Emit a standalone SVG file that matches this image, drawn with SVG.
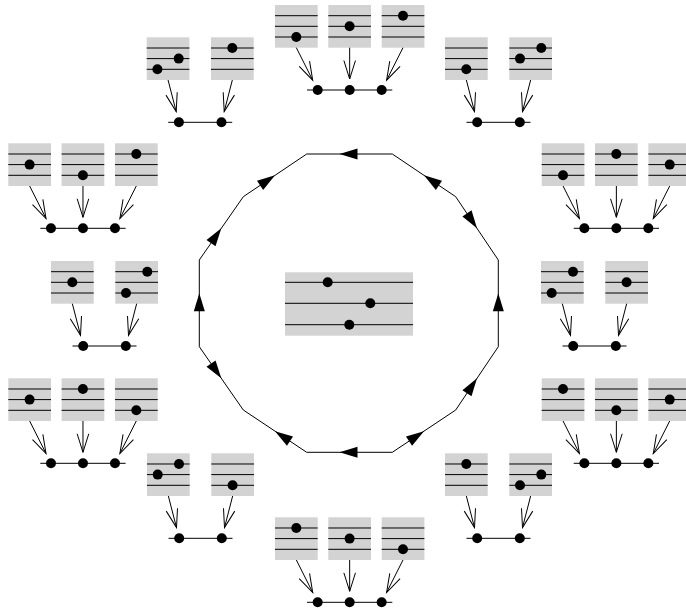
<svg xmlns="http://www.w3.org/2000/svg" xmlns:xlink="http://www.w3.org/1999/xlink" width="686" height="614" viewBox="0 0 686 614">
<style>
.box{fill:#d3d3d3}
.ln{stroke:#000;stroke-width:1;fill:none}
.dot{fill:#000}
.arr{stroke:#000;stroke-width:1;fill:none;marker-end:url(#v)}
.edge{stroke:#000;stroke-width:1;fill:none}
.tri{fill:#000}
</style>
<defs>
<marker id="v" markerUnits="userSpaceOnUse" markerWidth="24" markerHeight="16" viewBox="-21 -8 24 16" refX="0" refY="0" orient="auto" overflow="visible">
<path d="M-18.5,-5.8 L0,0 L-18.5,5.8" fill="none" stroke="#000" stroke-width="1"/>
</marker>
<g id="sb"><rect class="box" x="0" y="0" width="42.7" height="42.7"/><path class="ln" d="M0,10.7H42.7M0,21.3H42.7M0,32H42.7"/></g>
<g id="sb3"><use xlink:href="#sb" x="0"/><use xlink:href="#sb" x="53.3"/><use xlink:href="#sb" x="106.7"/><path class="ln" d="M32,85H117.3"/><circle class="dot" cx="42.67" cy="85" r="5"/><circle class="dot" cx="74.67" cy="85" r="5"/><circle class="dot" cx="106.67" cy="85" r="5"/></g>
<g id="sb2"><use xlink:href="#sb" x="0"/><use xlink:href="#sb" x="64.3"/><path class="ln" d="M21.5,85H85.5"/><circle class="dot" cx="32.2" cy="85" r="5"/><circle class="dot" cx="74.8" cy="85" r="5"/></g>
<path id="a3" d="M21.35,42.7L37.7,75.2M74.67,42.7L74.67,74M128,42.7L111.6,75.2"/>
<polygon id="tri" class="tri" points="0,0 -18,-5.5 -18,5.5"/>
</defs>

<g id="center-node">
<rect class="box" x="285" y="272.3" width="128" height="63.4"/>
<path class="ln" d="M285,282.3H413M285,303.3H413M285,324.7H413"/>
<circle class="dot" cx="327.7" cy="282.3" r="5"/>
<circle class="dot" cx="370.3" cy="303.3" r="5"/>
<circle class="dot" cx="349.3" cy="324.7" r="5"/>
</g>

<g id="node-top" transform="translate(275,5)"><use xlink:href="#sb3"/>
<circle class="dot" cx="21.3" cy="32" r="5"/><circle class="dot" cx="74.6" cy="21.3" r="5"/><circle class="dot" cx="128" cy="10.7" r="5"/></g>
<g id="node-top-left" transform="translate(146.7,37.3)"><use xlink:href="#sb2"/>
<circle class="dot" cx="10.7" cy="32" r="5"/><circle class="dot" cx="32" cy="21.3" r="5"/><circle class="dot" cx="85.6" cy="10.7" r="5"/></g>
<g id="node-top-right" transform="translate(445,37.3)"><use xlink:href="#sb2"/>
<circle class="dot" cx="21.3" cy="32" r="5"/><circle class="dot" cx="75" cy="21.3" r="5"/><circle class="dot" cx="96.3" cy="10.7" r="5"/></g>
<g id="node-upper-left" transform="translate(8.3,143.3)"><use xlink:href="#sb3"/>
<circle class="dot" cx="21.3" cy="21.3" r="5"/><circle class="dot" cx="74.6" cy="32" r="5"/><circle class="dot" cx="128" cy="10.7" r="5"/></g>
<g id="node-upper-right" transform="translate(541.7,143.3)"><use xlink:href="#sb3"/>
<circle class="dot" cx="21.3" cy="32" r="5"/><circle class="dot" cx="74.6" cy="10.7" r="5"/><circle class="dot" cx="128" cy="21.3" r="5"/></g>
<g id="node-mid-left" transform="translate(51,261)"><use xlink:href="#sb2"/>
<circle class="dot" cx="21.3" cy="21.3" r="5"/><circle class="dot" cx="75" cy="32" r="5"/><circle class="dot" cx="96.3" cy="10.7" r="5"/></g>
<g id="node-mid-right" transform="translate(541,261)"><use xlink:href="#sb2"/>
<circle class="dot" cx="10.7" cy="32" r="5"/><circle class="dot" cx="32" cy="10.7" r="5"/><circle class="dot" cx="85.6" cy="21.3" r="5"/></g>
<g id="node-lower-left" transform="translate(8.3,378.3)"><use xlink:href="#sb3"/>
<circle class="dot" cx="21.3" cy="21.3" r="5"/><circle class="dot" cx="74.6" cy="10.7" r="5"/><circle class="dot" cx="128" cy="32" r="5"/></g>
<g id="node-lower-right" transform="translate(541.7,378.3)"><use xlink:href="#sb3"/>
<circle class="dot" cx="21.3" cy="10.7" r="5"/><circle class="dot" cx="74.6" cy="32" r="5"/><circle class="dot" cx="128" cy="21.3" r="5"/></g>
<g id="node-bottom-left" transform="translate(147,453.3)"><use xlink:href="#sb2"/>
<circle class="dot" cx="10.7" cy="21.3" r="5"/><circle class="dot" cx="32" cy="10.7" r="5"/><circle class="dot" cx="85.6" cy="32" r="5"/></g>
<g id="node-bottom-right" transform="translate(445,453.3)"><use xlink:href="#sb2"/>
<circle class="dot" cx="21.3" cy="10.7" r="5"/><circle class="dot" cx="75" cy="32" r="5"/><circle class="dot" cx="96.3" cy="21.3" r="5"/></g>
<g id="node-bottom" transform="translate(275,517.3)"><use xlink:href="#sb3"/>
<circle class="dot" cx="21.3" cy="10.7" r="5"/><circle class="dot" cx="74.6" cy="21.3" r="5"/><circle class="dot" cx="128" cy="32" r="5"/></g>

<g id="connectors">
<path class="edge" d="M306.7,154L392.3,154L455.7,196.7L498.3,260L498.3,346.7L455.7,410L392.3,452.3L306.7,452.3L243.3,410L199.3,346.7L199.3,260L243.3,196.7Z"/>
<use xlink:href="#tri" transform="translate(339.5,154) rotate(180)"/>
<use xlink:href="#tri" transform="translate(424,175.35) rotate(213.96)"/>
<use xlink:href="#tri" transform="translate(477,228.35) rotate(56.06)"/>
<use xlink:href="#tri" transform="translate(498.3,293.35) rotate(-90)"/>
<use xlink:href="#tri" transform="translate(477,378.35) rotate(-56.06)"/>
<use xlink:href="#tri" transform="translate(424,431.15) rotate(-33.7)"/>
<use xlink:href="#tri" transform="translate(339.5,452.3) rotate(180)"/>
<use xlink:href="#tri" transform="translate(275,431.15) rotate(213.7)"/>
<use xlink:href="#tri" transform="translate(221.3,378.35) rotate(55.2)"/>
<use xlink:href="#tri" transform="translate(199.3,293.35) rotate(-90)"/>
<use xlink:href="#tri" transform="translate(221.3,228.35) rotate(-55.2)"/>
<use xlink:href="#tri" transform="translate(275,175.35) rotate(-33.96)"/>

<g transform="translate(275,5)"><path class="arr" d="M21.35,42.7L37.7,75.2"/><path class="arr" d="M74.67,42.7L74.67,74"/><path class="arr" d="M128,42.7L111.6,75.2"/></g>
<g transform="translate(8.3,143.3)"><path class="arr" d="M21.35,42.7L37.7,75.2"/><path class="arr" d="M74.67,42.7L74.67,74"/><path class="arr" d="M128,42.7L111.6,75.2"/></g>
<g transform="translate(541.7,143.3)"><path class="arr" d="M21.35,42.7L37.7,75.2"/><path class="arr" d="M74.67,42.7L74.67,74"/><path class="arr" d="M128,42.7L111.6,75.2"/></g>
<g transform="translate(8.3,378.3)"><path class="arr" d="M21.35,42.7L37.7,75.2"/><path class="arr" d="M74.67,42.7L74.67,74"/><path class="arr" d="M128,42.7L111.6,75.2"/></g>
<g transform="translate(541.7,378.3)"><path class="arr" d="M21.35,42.7L37.7,75.2"/><path class="arr" d="M74.67,42.7L74.67,74"/><path class="arr" d="M128,42.7L111.6,75.2"/></g>
<g transform="translate(275,517.3)"><path class="arr" d="M21.35,42.7L37.7,75.2"/><path class="arr" d="M74.67,42.7L74.67,74"/><path class="arr" d="M128,42.7L111.6,75.2"/></g>

<g transform="translate(146.7,37.3)"><path class="arr" d="M21.35,42.7L29.5,74.3"/><path class="arr" d="M85.65,42.7L77.5,74.3"/></g>
<g transform="translate(445,37.3)"><path class="arr" d="M21.35,42.7L29.5,74.3"/><path class="arr" d="M85.65,42.7L77.5,74.3"/></g>
<g transform="translate(51,261)"><path class="arr" d="M21.35,42.7L29.5,74.3"/><path class="arr" d="M85.65,42.7L77.5,74.3"/></g>
<g transform="translate(541,261)"><path class="arr" d="M21.35,42.7L29.5,74.3"/><path class="arr" d="M85.65,42.7L77.5,74.3"/></g>
<g transform="translate(147,453.3)"><path class="arr" d="M21.35,42.7L29.5,74.3"/><path class="arr" d="M85.65,42.7L77.5,74.3"/></g>
<g transform="translate(445,453.3)"><path class="arr" d="M21.35,42.7L29.5,74.3"/><path class="arr" d="M85.65,42.7L77.5,74.3"/></g>
</g>
</svg>
